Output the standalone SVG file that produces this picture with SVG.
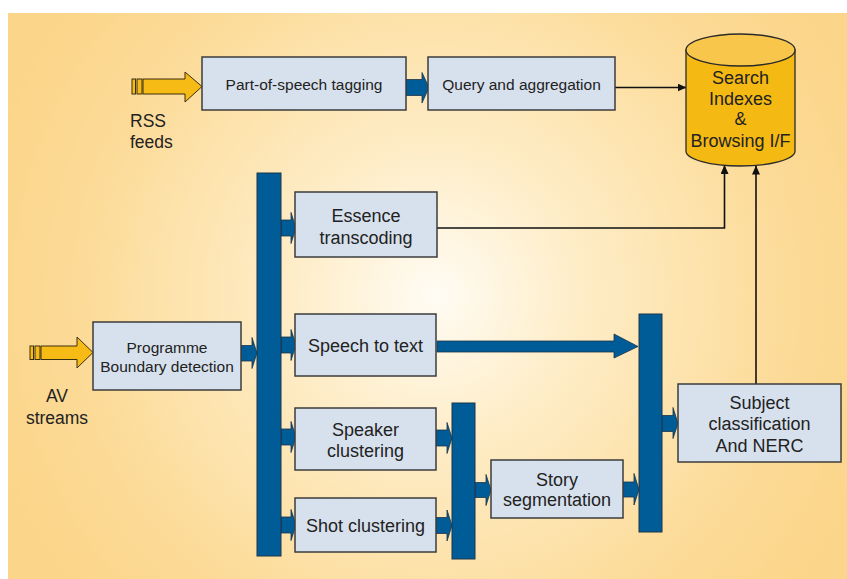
<svg xmlns="http://www.w3.org/2000/svg" width="847" height="579" viewBox="0 0 847 579">
  <defs>
    <radialGradient id="bg" gradientUnits="userSpaceOnUse" cx="435" cy="295" r="470">
      <stop offset="0" stop-color="#FFFCF4"/>
      <stop offset="0.3" stop-color="#FEEDC8"/>
      <stop offset="0.75" stop-color="#FCDB98"/>
      <stop offset="1" stop-color="#FBD589"/>
    </radialGradient>
    <marker id="head" markerWidth="9" markerHeight="8" refX="8.5" refY="4" orient="auto" markerUnits="userSpaceOnUse">
      <path d="M0,0 L9,4 L0,8 Z" fill="#111"/>
    </marker>
    <style>
      .box { fill: #D7E1ED; stroke: #3C3C3C; stroke-width: 1.5; }
      .bus { fill: #005C97; stroke: #1E3448; stroke-width: 1; }
      .blk { fill: #005C97; stroke: #1E3448; stroke-width: 0.8; }
      .yel { fill: #F6BB15; stroke: #3A2E10; stroke-width: 1; }
      .line { fill: none; stroke: #111; stroke-width: 1.6; }
      text { font-family: "Liberation Sans", Arial, sans-serif; fill: #222; text-anchor: middle; }
      .s { font-size: 15.5px; }
      .m { font-size: 18px; }
      .lbl { font-size: 17.5px; text-anchor: start; }
    </style>
  </defs>

  <!-- backdrop -->
  <rect x="0" y="0" width="847" height="579" fill="#FFFFFF"/>
  <rect x="8" y="13" width="839" height="566" fill="url(#bg)"/>

  <!-- connectors -->
  <g id="connectors">
    <!-- yellow inputs -->
    <rect class="yel" x="132" y="79" width="3.5" height="15"/>
    <rect class="yel" x="137" y="79" width="5" height="15"/>
    <path class="yel" d="M143,79 H185 V72 L202,86.5 L185,102 V94 H143 Z"/>
    <rect class="yel" x="30" y="346" width="3.5" height="13.5"/>
    <rect class="yel" x="35" y="346" width="5" height="13.5"/>
    <path class="yel" d="M41,346 H77 V337 L93,352.5 L77,368 V359.5 H41 Z"/>

    <!-- block arrows -->
    <path class="blk" d="M406,79.5 H422 V72.5 L429,87.5 L422,103 V95.5 H406 Z"/>
    <path class="blk" d="M281,220 H291 V212.5 L296,228 L291,243.5 V236 H281 Z"/>
    <path class="blk" d="M281,337 H291 V329.5 L296,345 L291,360.5 V353 H281 Z"/>
    <path class="blk" d="M281,429 H291 V421.5 L296,437 L291,452.5 V445 H281 Z"/>
    <path class="blk" d="M281,517 H291 V509.5 L296,525 L291,540.5 V533 H281 Z"/>
    <path class="blk" d="M241,345.5 H252 V337.5 L257,353 L252,368.5 V361 H241 Z"/>
    <path class="blk" d="M436,430 H447 V422.5 L452,438 L447,453.5 V446 H436 Z"/>
    <path class="blk" d="M436,517.5 H447 V510 L452,525.5 L447,541 V533.5 H436 Z"/>
    <path class="blk" d="M475,482.5 H486 V474.5 L491,490 L486,505.5 V497.5 H475 Z"/>
    <path class="blk" d="M623,482 H634 V473.5 L639,489.5 L634,505 V497 H623 Z"/>
    <path class="blk" d="M662,415.5 H673 V407.5 L678,423.5 L673,438.5 V431.5 H662 Z"/>
    <!-- speech to text into the merge bar -->
    <path class="blk" d="M437,341 H614 V334 L638,346.5 L614,358 V352 H437 Z"/>

    <!-- thin lines into the index store -->
    <path class="line" d="M615,87.5 H686" marker-end="url(#head)"/>
    <path class="line" d="M437,228 H724.5 V165.5" marker-end="url(#head)"/>
    <path class="line" d="M756,384 V166" marker-end="url(#head)"/>
  </g>

  <!-- distribution bars -->
  <g id="bus-main"><rect class="bus" x="257" y="173" width="24" height="383"/></g>
  <g id="bus-mid"><rect class="bus" x="452" y="403" width="23" height="156"/></g>
  <g id="bus-right"><rect class="bus" x="639" y="314" width="23" height="218"/></g>

  <!-- RSS branch -->
  <g id="rss-label">
    <text class="lbl" x="130" y="127">RSS</text>
    <text class="lbl" x="130" y="148">feeds</text>
  </g>
  <g id="pos-tagging">
    <rect class="box" x="202" y="57" width="204" height="53"/>
    <text class="s" x="304" y="90">Part-of-speech tagging</text>
  </g>
  <g id="query-aggregation">
    <rect class="box" x="428" y="57" width="187" height="53"/>
    <text class="s" x="521.5" y="90">Query and aggregation</text>
  </g>

  <!-- index store -->
  <g id="search-indexes">
    <path d="M686,50 V151 A54.5,15 0 0 0 795,151 V50 Z" fill="#F5B913" stroke="#2A2A2A" stroke-width="1.3"/>
    <ellipse cx="740.5" cy="50" rx="54.5" ry="16" fill="#F8C64A" stroke="#2A2A2A" stroke-width="1.3"/>
    <text class="m" x="740.5" y="84">Search</text>
    <text class="m" x="740.5" y="104.5">Indexes</text>
    <text class="m" x="740.5" y="125">&amp;</text>
    <text class="m" x="740.5" y="146.5">Browsing I/F</text>
  </g>

  <!-- AV branch -->
  <g id="av-label">
    <text x="57" y="402" style="font-size:17.5px">AV</text>
    <text x="57" y="424" style="font-size:17.5px">streams</text>
  </g>
  <g id="programme-boundary">
    <rect class="box" x="93" y="322" width="148" height="68"/>
    <text class="s" x="167" y="353">Programme</text>
    <text class="s" x="167" y="372">Boundary detection</text>
  </g>
  <g id="essence-transcoding">
    <rect class="box" x="295" y="192" width="142" height="65"/>
    <text class="m" x="366" y="221.5">Essence</text>
    <text class="m" x="366" y="243.5">transcoding</text>
  </g>
  <g id="speech-to-text">
    <rect class="box" x="295" y="314" width="141" height="62"/>
    <text class="m" x="365.5" y="351.5">Speech to text</text>
  </g>
  <g id="speaker-clustering">
    <rect class="box" x="295" y="408" width="141" height="62"/>
    <text class="m" x="365.5" y="436">Speaker</text>
    <text class="m" x="365.5" y="457">clustering</text>
  </g>
  <g id="shot-clustering">
    <rect class="box" x="295" y="498" width="141" height="54"/>
    <text class="m" x="365.5" y="531.5">Shot clustering</text>
  </g>
  <g id="story-segmentation">
    <rect class="box" x="491" y="460" width="132" height="58"/>
    <text class="m" x="557" y="486">Story</text>
    <text class="m" x="557" y="505.5">segmentation</text>
  </g>
  <g id="subject-classification">
    <rect class="box" x="678" y="384" width="163" height="78"/>
    <text class="m" x="759.5" y="408.5">Subject</text>
    <text class="m" x="759.5" y="430">classification</text>
    <text class="m" x="759.5" y="452">And NERC</text>
  </g>
</svg>
